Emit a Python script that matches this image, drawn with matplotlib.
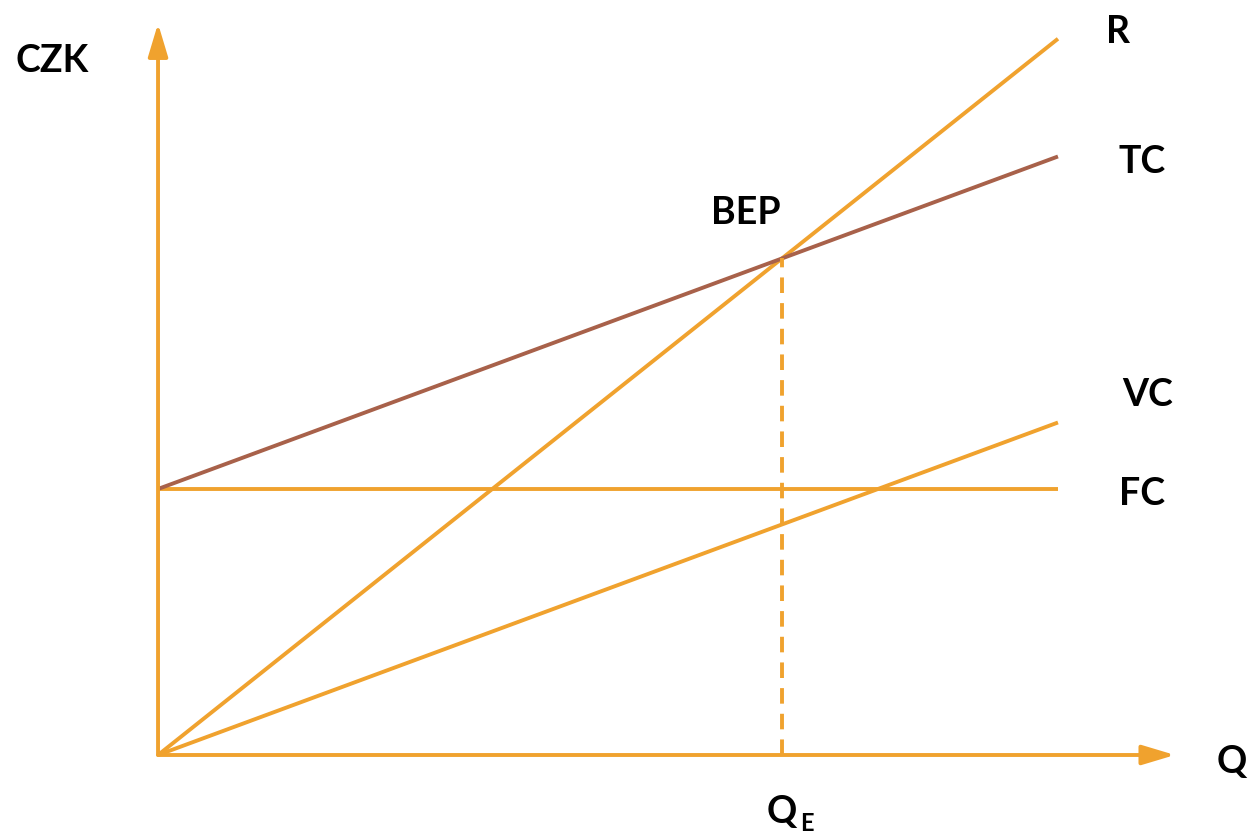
import matplotlib
matplotlib.use("Agg")
import matplotlib.pyplot as plt

# quantity axis and cost / revenue lines
q = [0, 10]
fc = [40, 40]
vc = [0, 50]
tc = [40, 90]
r = [0, 107.7]

orange = '#F0A22E'
brown = '#A8614A'

plt.rcParams['font.family'] = ['Lato', 'DejaVu Sans']

fig = plt.figure(figsize=(12.52, 8.37), dpi=100)
ax = fig.add_axes([0, 0, 1, 1])
ax.set_xlim(-1.756, 12.156)
ax.set_ylim(-12.18, 113.68)
ax.axis('off')

lw = 2.8

# axes with arrows
arrow = dict(arrowstyle='-|>,head_length=1.0,head_width=0.3', lw=lw,
             color=orange, shrinkA=0, shrinkB=0, mutation_scale=20)
ax.annotate('', xy=(0, 110), xytext=(0, 0), arrowprops=arrow)
ax.annotate('', xy=(11.3, 0), xytext=(0, 0), arrowprops=arrow)

ax.plot(q, fc, color=orange, lw=lw, solid_capstyle='butt')
ax.plot(q, vc, color=orange, lw=lw, solid_capstyle='butt')
ax.plot(q, r, color=orange, lw=lw, solid_capstyle='butt')
ax.plot(q, tc, color=brown, lw=lw, solid_capstyle='butt')

# break-even point: r = tc
slope_r = (r[1] - r[0]) / (q[1] - q[0])
slope_tc = (tc[1] - tc[0]) / (q[1] - q[0])
q_e = (tc[0] - r[0]) / (slope_r - slope_tc)
y_e = slope_r * q_e
ax.plot([q_e, q_e], [0, y_e], color=orange, lw=lw, dashes=(4, 2.6))

fs = 27
bold = dict(fontsize=fs, fontweight='bold', color='black')

def end_label(text, y, dx, dy):
    ax.annotate(text, xy=(q[1], y), xytext=(dx, dy), textcoords='offset pixels',
                ha='center', va='center', **bold)

end_label('R', r[1], 60, 8)
end_label('TC', tc[1], 84, -5)
end_label('VC', vc[1], 90, 28)
end_label('FC', fc[1], 84, -4)

ax.annotate('BEP', xy=(q_e, y_e), xytext=(-36, 46), textcoords='offset pixels',
            ha='center', va='center', **bold)
ax.annotate('CZK', xy=(0, 110), xytext=(-106, -37), textcoords='offset pixels',
            ha='center', va='center', **bold)
ax.annotate('Q', xy=(11.3, 0), xytext=(57, -6), textcoords='offset pixels',
            ha='center', va='center', **bold)
ax.annotate('Q', xy=(q_e, 0), xytext=(0, -56), textcoords='offset pixels',
            ha='center', va='center', **bold)
ax.annotate('E', xy=(q_e, 0), xytext=(25, -68), textcoords='offset pixels',
            ha='center', va='center', fontsize=17, fontweight='bold', color='black')

fig.savefig('out.png', dpi=100)
